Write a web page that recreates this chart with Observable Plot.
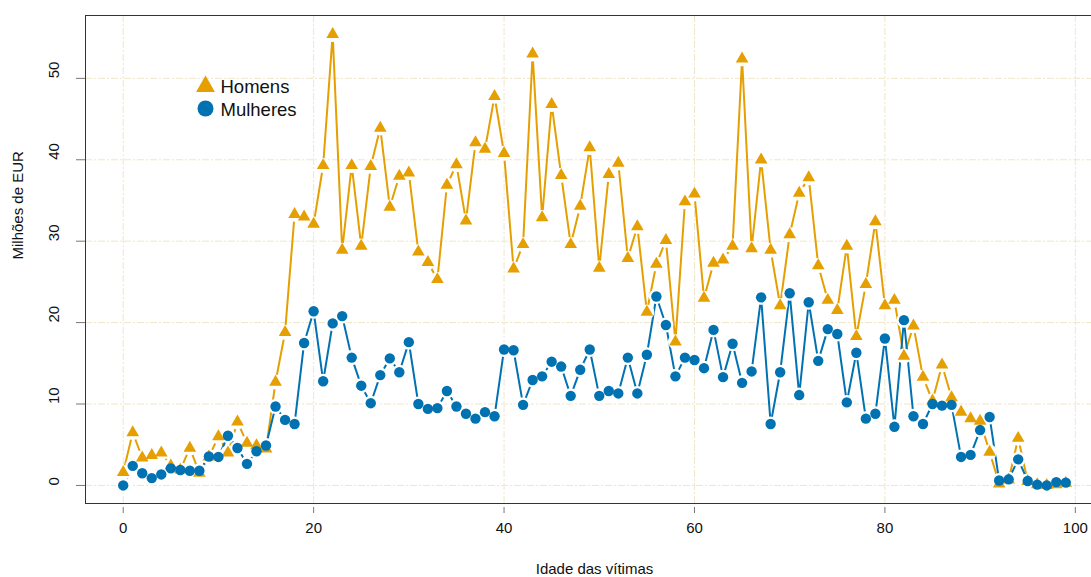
<!DOCTYPE html>
<html>
<head>
<meta charset="utf-8">
<script src="https://cdn.jsdelivr.net/npm/d3@7"></script>
<script src="https://cdn.jsdelivr.net/npm/@observablehq/plot@0.6"></script>
<style>
  html, body { margin: 0; padding: 0; background: #fff; overflow: hidden; }
  #chart svg { overflow: hidden; display: block; }
</style>
</head>
<body>
<div id="chart"></div>
<script>
const ages = [
  0,1,2,3,4,5,6,7,8,9,10,11,12,13,14,15,16,17,18,19,
  20,21,22,23,24,25,26,27,28,29,30,31,32,33,34,35,36,37,38,39,
  40,41,42,43,44,45,46,47,48,49,50,51,52,53,54,55,56,57,58,59,
  60,61,62,63,64,65,66,67,68,69,70,71,72,73,74,75,76,77,78,79,
  80,81,82,83,84,85,86,87,88,89,90,91,92,93,94,95,96,97,98,99
];
const homens = [
  1.6,6.5,3.4,3.7,4.0,2.4,1.9,4.6,1.5,3.5,
  6.0,4.0,7.8,5.2,4.9,4.5,12.7,18.8,33.3,33.0,
  32.1,39.3,55.4,28.9,39.3,29.4,39.2,43.9,34.2,38.0,
  38.4,28.7,27.4,25.3,36.9,39.4,32.5,42.1,41.3,47.8,
  40.8,26.6,29.6,53.0,32.9,46.8,38.1,29.6,34.3,41.5,
  26.7,38.2,39.6,27.9,31.8,21.3,27.2,30.1,17.65,34.85,
  35.8,23.0,27.3,27.7,29.4,52.4,29.1,40.0,28.9,22.1,
  30.8,35.9,37.8,27.0,22.75,21.5,29.4,18.3,24.7,32.4,
  22.1,22.75,15.9,19.6,13.3,10.4,14.8,10.8,9.0,8.2,
  7.9,4.1,0.2,0.7,5.8,0.5,0.1,0.0,0.1,0.3
];
const mulheres = [
  0.0,2.4,1.5,0.9,1.35,2.1,1.9,1.8,1.8,3.55,
  3.5,6.1,4.6,2.65,4.2,4.9,9.7,8.05,7.55,17.5,
  21.4,12.8,19.9,20.8,15.7,12.25,10.1,13.55,15.6,13.9,
  17.6,10.0,9.4,9.5,11.6,9.7,8.8,8.2,9.0,8.5,
  16.7,16.6,9.9,12.95,13.4,15.2,14.6,11.0,14.2,16.7,
  11.0,11.6,11.3,15.7,11.3,16.05,23.2,19.7,13.4,15.7,
  15.4,14.4,19.1,13.3,17.4,12.6,14.0,23.1,7.55,13.9,
  23.6,11.1,22.5,15.3,19.2,18.6,10.2,16.3,8.2,8.8,
  18.05,7.2,20.3,8.5,7.55,10.0,9.8,9.9,3.5,3.75,
  6.8,8.4,0.6,0.75,3.2,0.55,0.1,0.0,0.4,0.35
];
const xTicks = [0, 20, 40, 60, 80, 100];
const yTicks = [0, 10, 20, 30, 40, 50];
const legendLabels = ["Homens", "Mulheres"];
const xTitle = "Idade das vítimas";
const yTitle = "Milhões de EUR";

const orange = "#E69F00";
const blue = "#0072B2";

const homensData = ages.map((a, i) => ({age: a, value: homens[i]}));
const mulheresData = ages.map((a, i) => ({age: a, value: mulheres[i]}));

const font = "'Liberation Sans', Arial, Helvetica, sans-serif";
const gridStyle = {stroke: "#efe6c8", strokeWidth: 1, strokeDasharray: "7,2,2,2"};

const chart = Plot.plot({
  width: 1091,
  height: 577,
  marginLeft: 85,
  marginRight: -12,
  marginTop: 15,
  marginBottom: 74,
  style: {fontFamily: font, background: "#fff", color: "#111"},
  x: {domain: [-3.96, 102.96], axis: null},
  y: {domain: [-2.22, 57.72], axis: null},
  marks: [
    Plot.ruleX(xTicks, gridStyle),
    Plot.ruleY(yTicks, gridStyle),
    Plot.frame({stroke: "#333", strokeWidth: 1}),
    // lines
    Plot.line(homensData, {x: "age", y: "value", stroke: orange, strokeWidth: 2}),
    Plot.line(mulheresData, {x: "age", y: "value", stroke: blue, strokeWidth: 2}),
    // gaps around points (like type = "b")
    Plot.dot(homensData, {x: "age", y: "value", r: 7.5, fill: "white"}),
    Plot.dot(mulheresData, {x: "age", y: "value", r: 7.5, fill: "white"}),
    // points
    Plot.dot(homensData, {x: "age", y: "value", symbol: "triangle", r: 4.7, fill: orange}),
    Plot.dot(mulheresData, {x: "age", y: "value", symbol: "circle", r: 5.2, fill: blue}),
    // axes
    Plot.axisX({ticks: xTicks, tickSize: 6, tickPadding: 9, dy: 4, fontSize: 15, label: null, stroke: "#777", color: "#111", tickFormat: d => String(d)}),
    Plot.axisY({ticks: yTicks, tickSize: 9, tickFormat: () => "", label: null, stroke: "#777"}),
    Plot.text(yTicks, {y: d => d, frameAnchor: "left", dx: -31, rotate: -90, text: d => String(d), fontSize: 15, fill: "#111"}),
    Plot.text([xTitle], {frameAnchor: "bottom", dy: 66, lineAnchor: "middle", text: d => d, fontSize: 15, fill: "#111"}),
    Plot.text([yTitle], {frameAnchor: "left", dx: -67, rotate: -90, lineAnchor: "middle", text: d => d, fontSize: 15, fill: "#111"}),
    // legend
    Plot.dot([legendLabels[0]], {frameAnchor: "top-left", dx: 120, dy: 71, symbol: "triangle", r: 7, fill: orange}),
    Plot.dot([legendLabels[1]], {frameAnchor: "top-left", dx: 120, dy: 93, symbol: "circle", r: 8, fill: blue}),
    Plot.text([legendLabels[0]], {frameAnchor: "top-left", dx: 135, dy: 72, lineAnchor: "middle", text: d => d, textAnchor: "start", fontSize: 18.5, fill: "#111"}),
    Plot.text([legendLabels[1]], {frameAnchor: "top-left", dx: 135, dy: 95, lineAnchor: "middle", text: d => d, textAnchor: "start", fontSize: 18.5, fill: "#111"})
  ]
});
document.getElementById("chart").appendChild(chart);
</script>
</body>
</html>
